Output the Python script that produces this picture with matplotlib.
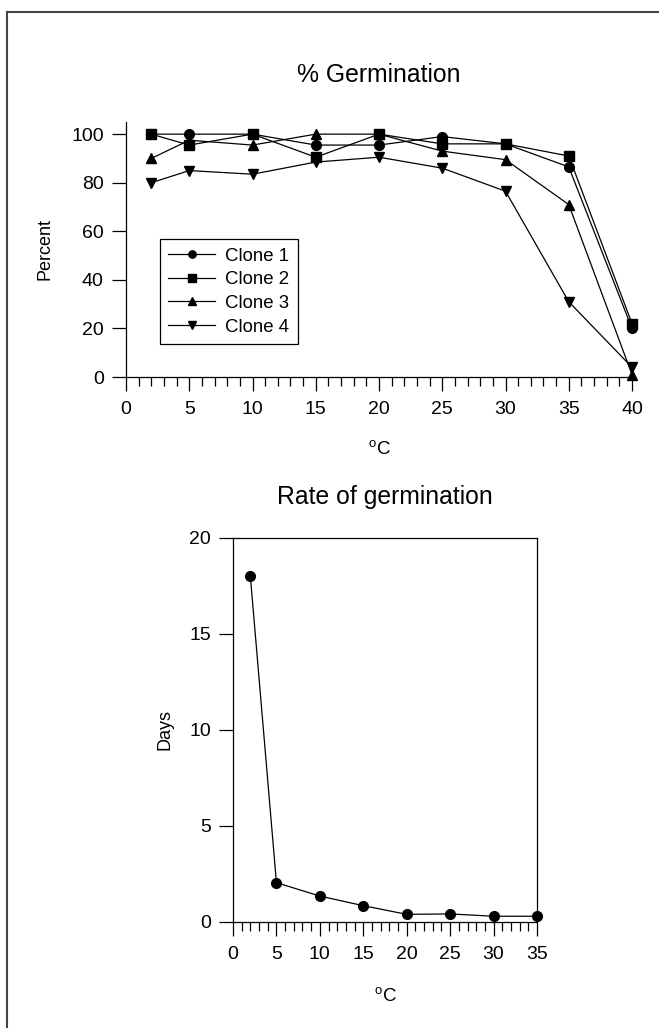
import matplotlib
matplotlib.use("Agg")
import matplotlib.pyplot as plt
from matplotlib.lines import Line2D
from matplotlib.ticker import MultipleLocator

plt.rcParams['font.family'] = ['Liberation Sans', 'DejaVu Sans']
plt.rcParams['mathtext.fontset'] = 'custom'
plt.rcParams['mathtext.rm'] = 'Liberation Sans'

# % germination per clone
temps = [2, 5, 10, 15, 20, 25, 30, 35, 40]
clone1 = [100, 100, 100, 95.5, 95.5, 99, 96, 86.5, 20]
clone2 = [100, 95.5, 100, 90.5, 100, 96, 96, 91, 22]
clone3 = [90, 97.5, 95.5, 100, 100, 93, 89.5, 71, 1]
clone4 = [80, 85, 83.5, 88.5, 90.5, 86, 76.5, 31, 4]
clone_names = ['Clone 1', 'Clone 2', 'Clone 3', 'Clone 4']

# rate of germination
rate_temps = [2, 5, 10, 15, 20, 25, 30, 35]
rate_days = [18, 2.05, 1.35, 0.85, 0.4, 0.42, 0.3, 0.3]

W, H = 659, 1028
fig = plt.figure(figsize=(W / 100, H / 100), dpi=100)


def style_axis(ax):
    ax.tick_params(axis='both', which='major', direction='out', length=10,
                   width=0.9, labelsize=14, color='black')
    ax.tick_params(axis='x', which='major', pad=7.5)
    ax.tick_params(axis='y', which='major', pad=6)
    ax.tick_params(axis='x', which='minor', direction='out', length=6.5, width=0.9)
    ax.xaxis.set_major_locator(MultipleLocator(5))
    ax.xaxis.set_minor_locator(MultipleLocator(1))
    for sp in ax.spines.values():
        sp.set_linewidth(0.9)


# top chart
ax1 = fig.add_axes([126 / W, 1 - 377 / H, 506 / W, 255 / H])
markers = ['o', 's', '^', 'v']
for vals, m, name in zip([clone1, clone2, clone3, clone4], markers, clone_names):
    ax1.plot(temps, vals, color='black', lw=0.9, marker=m, markersize=7,
             markerfacecolor='black', markeredgecolor='black', label=name, clip_on=False)
ax1.set_xlim(0, 40)
ax1.set_ylim(0, 105)
ax1.set_yticks([0, 20, 40, 60, 80, 100])
ax1.spines['top'].set_visible(False)
ax1.spines['right'].set_visible(False)
style_axis(ax1)
ax1.set_ylabel('Percent', fontsize=13)
ax1.yaxis.set_label_coords((45 - 126) / 506, 0.5)
ax1.yaxis.label.set_va('center')
ax1.set_xlabel('$^{\\mathrm{o}}$C', fontsize=13.5)
ax1.xaxis.set_label_coords(0.5, (377 - 450) / 255)
ax1.xaxis.label.set_va('center')
leg = ax1.legend(loc='lower left', bbox_to_anchor=(0.067, 0.129), fontsize=13.4,
                 frameon=True, fancybox=False, edgecolor='black', framealpha=1,
                 handlelength=2.5, handletextpad=0.55, labelspacing=0.36,
                 borderpad=0.45, borderaxespad=0, markerscale=0.75)
leg.get_frame().set_linewidth(0.9)

fig.text(379 / W, 1 - 75 / H, '% Germination', ha='center', va='center', fontsize=17.8)

# bottom chart
ax2 = fig.add_axes([233 / W, 1 - 922 / H, 304 / W, 384 / H])
ax2.plot(rate_temps, rate_days, color='black', lw=0.9, marker='o', markersize=7,
         markerfacecolor='black', clip_on=False)
ax2.set_xlim(0, 35)
ax2.set_ylim(0, 20)
ax2.set_yticks([0, 5, 10, 15, 20])
style_axis(ax2)
ax2.set_ylabel('Days', fontsize=13)
ax2.yaxis.set_label_coords((165 - 233) / 304, 0.5)
ax2.yaxis.label.set_va('center')
ax2.set_xlabel('$^{\\mathrm{o}}$C', fontsize=13.5)
ax2.xaxis.set_label_coords(0.5, (922 - 997) / 384)
ax2.xaxis.label.set_va('center')

fig.text(385 / W, 1 - 497 / H, 'Rate of germination', ha='center', va='center', fontsize=17.8)

# page frame (left and top edge)
fig.add_artist(Line2D([7 / W, 7 / W], [0, 1 - 12 / H], transform=fig.transFigure,
                      color='#444444', lw=1.5))
fig.add_artist(Line2D([7 / W, 1], [1 - 12 / H, 1 - 12 / H], transform=fig.transFigure,
                      color='#444444', lw=1.5))

fig.savefig('out.png', dpi=100, facecolor='white')
